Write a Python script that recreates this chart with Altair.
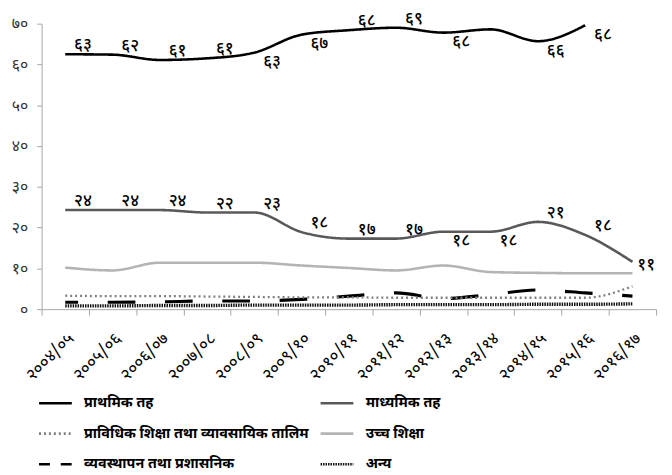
import altair as alt
import pandas as pd

years = ["२००४/०५", "२००५/०६", "२००६/०७", "२००७/०८", "२००८/०९", "२००९/१०",
         "२०१०/११", "२०११/१२", "२०१२/१३", "२०१३/१४", "२०१४/१५", "२०१५/१६", "२०१६/१७"]

series_names = ["प्राथमिक तह", "माध्यमिक तह",
                "प्राविधिक शिक्षा तथा व्यावसायिक तालिम", "उच्च शिक्षा",
                "व्यवस्थापन तथा प्रशासनिक", "अन्य"]

primary = [62.5, 62.4, 61.1, 61.5, 62.9, 67.3, 68.4, 69.0, 67.8, 68.6, 65.7, 69.6, None]
secondary = [24.3, 24.3, 24.3, 23.7, 23.7, 18.9, 17.3, 17.3, 19.0, 19.0, 21.4, 18.2, 11.6]
technical = [3.3, 3.2, 3.2, 3.1, 3.0, 2.9, 2.9, 2.8, 2.8, 2.8, 2.8, 2.8, 5.6]
higher = [10.2, 9.5, 11.4, 11.4, 11.4, 10.7, 10.1, 9.5, 10.7, 9.1, 8.9, 8.8, 8.8]
management = [1.7, 1.7, 1.8, 2.0, 2.0, 2.4, 3.2, 4.0, 2.6, 3.6, 4.7, 4.0, 3.2]
other = [0.8, 0.8, 0.9, 0.9, 1.0, 1.0, 1.0, 1.1, 1.1, 1.1, 1.2, 1.2, 1.3]

primary_labels = ["६३", "६२", "६१", "६१", "६३", "६७", "६८", "६९", "६८", "", "६६", "६८", ""]
primary_pos = ["a", "a", "a", "a", "b", "b", "a", "a", "b", "", "b", "b", ""]
secondary_labels = ["२४", "२४", "२४", "२२", "२३", "१८", "१७", "१७", "१८", "१८", "२१", "१८", "११"]
secondary_pos = ["a", "a", "a", "a", "a", "a", "a", "a", "b", "b", "a", "a", "r"]

y_ticks = [0, 10, 20, 30, 40, 50, 60, 70]
y_tick_labels = ["०", "१०", "२०", "३०", "४०", "५०", "६०", "७०"]

colors = ["#000000", "#595959", "#7f7f7f", "#b4b4b4", "#000000", "#111111"]
legend_dashes = [[1, 0], [1, 0], [2, 3], [1, 0], [11, 11], [1.5, 1]]
mgmt_dash = [28, 30]
widths = [2.6, 2.6, 2.3, 2.6, 3.2, 3.4]

FONT = "Noto Sans Devanagari, Lohit Devanagari, Mangal, Noto Sans, DejaVu Sans, sans-serif"

all_values = [primary, secondary, technical, higher, management, other]
rows = []
for name, vals in zip(series_names, all_values):
    for yr, v in zip(years, vals):
        if v is not None:
            rows.append({"year": yr, "series": name, "value": v})
df = pd.DataFrame(rows)

lab_rows = []
for vals, labs, poss in [(primary, primary_labels, primary_pos),
                         (secondary, secondary_labels, secondary_pos)]:
    for yr, v, l, p in zip(years, vals, labs, poss):
        if l:
            lab_rows.append({"year": yr, "value": v, "label": l, "pos": p})
ldf = pd.DataFrame(lab_rows)

legend = alt.Legend(
    title=None, orient="none", legendX=-4, legendY=366, columns=2,
    direction="horizontal",
    symbolType="stroke", symbolSize=1100, symbolStrokeWidth=2.6,
    labelFont=FONT, labelFontSize=14.5, labelFontWeight="bold",
    labelColor="#000000", labelOffset=11,
    rowPadding=6, columnPadding=6, labelLimit=400,
)

x_enc = alt.X("year:N", sort=years, bandPosition=0.5,
              scale=alt.Scale(type="band", domain=years, paddingInner=0, paddingOuter=0),
              axis=alt.Axis(title=None, labelAngle=-45, tickBand="extent",
                            domainColor="#a6a6a6", tickColor="#a6a6a6", tickSize=6,
                            labelFont=FONT, labelFontSize=17, labelColor="#000000",
                            labelPadding=15, labelOffset=0))
y_enc = alt.Y("value:Q", scale=alt.Scale(domain=[0, 70], nice=False),
              axis=alt.Axis(title=None, values=y_ticks, grid=False,
                            labelExpr=str(y_tick_labels) + "[datum.value / 10]",
                            domainColor="#a6a6a6", tickColor="#a6a6a6", tickSize=5,
                            labelFont=FONT, labelFontSize=16, labelColor="#333333",
                            labelPadding=9))
color_enc = alt.Color("series:N", scale=alt.Scale(domain=series_names, range=colors),
                      sort=series_names, legend=legend)
dash_enc = alt.StrokeDash("series:N", scale=alt.Scale(domain=series_names, range=legend_dashes),
                          sort=series_names, legend=legend)

base = alt.Chart(df)
layers = []
order = [5, 4, 2, 3, 1, 0]
for i in order:
    name = series_names[i]
    props = dict(strokeWidth=widths[i], interpolate="monotone", strokeCap="butt")
    enc = dict(x=x_enc, y=y_enc, color=color_enc)
    if i == 4:
        props["strokeDash"] = mgmt_dash
        props["strokeDashOffset"] = 15
    else:
        enc["strokeDash"] = dash_enc
    layers.append(
        base.transform_filter(alt.datum.series == name)
        .mark_line(**props)
        .encode(**enc)
    )

lbase = alt.Chart(ldf)
offsets = {"a": (18, -9), "b": (18, 10), "r": (14, 3)}
for p, (dx, dy) in offsets.items():
    layers.append(
        lbase.transform_filter(alt.datum.pos == p)
        .mark_text(dx=dx, dy=dy, font=FONT, fontSize=17, fontWeight=500, color="#000000")
        .encode(x=x_enc, y=y_enc, text="label:N")
    )

chart = alt.layer(*layers).properties(
    width=622, height=289,
    padding={"left": 34, "right": 8, "top": 13, "bottom": 165},
    autosize=alt.AutoSizeParams(type="none"),
).configure_view(stroke=None)

chart.save("out.html", embed_options={"renderer": "svg", "actions": False})
